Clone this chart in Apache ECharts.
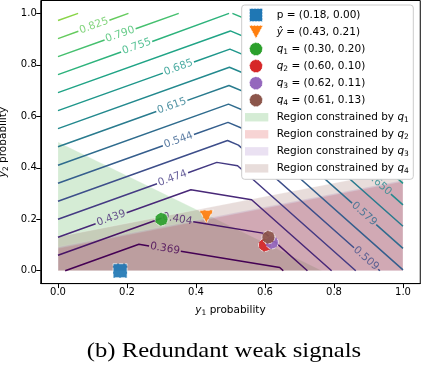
<!DOCTYPE html>
<html><head><meta charset="utf-8">
<script src="https://cdn.jsdelivr.net/npm/echarts@6/dist/echarts.min.js"></script>
<style>html,body{margin:0;padding:0;background:#fff}#c{width:422px;height:366px}</style>
</head><body><div id="c"></div>
<script>
// ---- data ----
const xTicks = [0, 0.2, 0.4, 0.6, 0.8, 1.0];
const yTicks = [0, 0.2, 0.4, 0.6, 0.8, 1.0];

// contour polylines (segments split where inline labels sit)
const c369 = [[[0.0208,0],[0.2345,0.1026],[0.264,0.0961]], [[0.356,0.0757],[0.6427,0.0124],[0.653,0]]];
const c404 = [[[0,0.06],[0.30,0.204]], [[0.392,0.1906],[0.602,0.1442],[0.723,0]]];
const c439 = [[[0,0.13],[0.109,0.1823]], [[0.199,0.2255],[0.3852,0.3149],[0.5612,0.276],[0.793,0]]];
const c474 = [[[0,0.2],[0.287,0.3378]], [[0.377,0.381],[0.4604,0.421],[0.5205,0.4078],[0.863,0]]];
const c509 = [[[0,0.27],[0.4914,0.5059],[0.5229,0.4882],[0.858,0.0893]], [[0.928,0.006],[0.933,0]]];
const c544 = [[[0,0.34],[0.304,0.4859]], [[0.394,0.5291],[0.4928,0.5765],[0.5418,0.549],[1.0,0.0035]]];
const c579 = [[[0,0.41],[0.4942,0.6472],[0.5607,0.6098],[0.8525,0.2625]], [[0.9225,0.1792],[1.0,0.0869]]];
const c615 = [[[0,0.482],[0.285,0.6188]], [[0.375,0.662],[0.4956,0.7199],[0.5802,0.6724],[1.0,0.1726]]];
const c650 = [[[0,0.552],[0.4969,0.7905],[0.5991,0.7332],[0.895,0.3809]], [[0.965,0.2976],[1.0,0.2559]]];
const c685 = [[[0,0.622],[0.304,0.7679]], [[0.394,0.8111],[0.4983,0.8612],[0.618,0.794],[1.0,0.3393]]];
const c720 = [[[0,0.692],[0.4996,0.9318],[0.6369,0.8548],[1.0,0.4226]]];
const c755 = [[[0,0.762],[0.183,0.8498]], [[0.273,0.891],[0.4958,1.0]], [[0.5055,1.0],[0.6558,0.9157],[1.0,0.506]]];
const c790 = [[[0,0.832],[0.135,0.8968]], [[0.225,0.94],[0.35,1.0]], [[0.6327,1.0],[0.6747,0.9765],[1.0,0.5893]]];
const c825 = [[[0,0.902],[0.059,0.9303]], [[0.149,0.9735],[0.2042,1.0]], [[0.725,1.0],[1.0,0.6726]]];
const c860 = [[[0,0.972],[0.0583,1.0]], [[0.795,1.0],[1.0,0.756]]];
const c895 = [[[0.865,1.0],[1.0,0.839]]];
const c930 = [[[0.935,1.0],[1.0,0.923]]];

const contourLabels = [
  [0.310, 0.0859, '0.369'], [0.346, 0.2007, '0.404'], [0.154, 0.204, '0.439'],
  [0.332, 0.359, '0.474'], [0.893, 0.0476, '0.509'], [0.349, 0.5075, '0.544'],
  [0.8875, 0.2208, '0.579'], [0.33, 0.6404, '0.615'], [0.93, 0.3393, '0.650'],
  [0.349, 0.7895, '0.685'], [0.228, 0.8714, '0.755'], [0.18, 0.9184, '0.790'],
  [0.104, 0.9519, '0.825']
];

const pPoint = [[0.18, 0.00]];
const yHatPoint = [[0.43, 0.21]];
const q1Point = [[0.30, 0.20]];
const q2Point = [[0.60, 0.10]];
const q3Point = [[0.62, 0.11]];
const q4Point = [[0.61, 0.13]];

const regionQ1 = [[0,0],[0,0.5],[0.765,0]];
const regionQ2 = [[0,0],[0,0.087],[1,0.347],[1,0]];
const regionQ3 = [[0,0],[0,0.092],[1,0.352],[1,0]];
const regionQ4 = [[0,0],[0,0.132],[1,0.392],[1,0]];

const legendTexts = ['p = (0.18, 0.00)', '{i|ŷ} = (0.43, 0.21)',
  '{i|q}{s|1} = (0.30, 0.20)', '{i|q}{s|2} = (0.60, 0.10)', '{i|q}{s|3} = (0.62, 0.11)', '{i|q}{s|4} = (0.61, 0.13)',
  'Region constrained by {i|q}{s|1}', 'Region constrained by {i|q}{s|2}',
  'Region constrained by {i|q}{s|3}', 'Region constrained by {i|q}{s|4}'];

// ---- styles ----
const contours = [
  [c369,'#440154'],[c404,'#471466'],[c439,'#482878'],[c474,'#443a83'],[c509,'#3d4e8a'],
  [c544,'#355e8d'],[c579,'#2f6c8e'],[c615,'#297b8e'],[c650,'#23898e'],[c685,'#1f978b'],
  [c720,'#20a486'],[c755,'#2eb37c'],[c790,'#46c06f'],[c825,'#65cb5e'],[c860,'#89d548'],
  [c895,'#b0dd2f'],[c930,'#d8e219']
];
const labelColor = {'0.369':'#440154','0.404':'#471466','0.439':'#482878','0.474':'#443a83','0.509':'#3d4e8a',
  '0.544':'#355e8d','0.579':'#2f6c8e','0.615':'#297b8e','0.650':'#23898e','0.685':'#1f978b',
  '0.755':'#2eb37c','0.790':'#46c06f','0.825':'#65cb5e'};
const labelRot = {'0.369':-9.4,'0.404':-9.4,'0.509':-41.6,'0.579':-41.6,'0.650':-41.6};
const FONT = 'DejaVu Sans';

function joinSegs(segs){
  const out = [];
  segs.forEach((s,i)=>{ if(i) out.push([null,null]); s.forEach(p=>out.push(p)); });
  return out;
}
function polySeries(pts, fill){
  return {type:'custom', coordinateSystem:'cartesian2d', data:[[0,0]], z:1, silent:true, animation:false,
    renderItem:(params, api)=>({type:'polygon', shape:{points: pts.map(p=>api.coord(p))},
      style:{fill:fill, stroke:'rgba(255,255,255,0.25)', lineWidth:0.8}})};
}
function markerSeries(data, symbol, size, color, z){
  return {type:'scatter', data:data, symbol:symbol, symbolSize:size, z:z, silent:true, animation:false,
    itemStyle:{color:color, opacity:0.92, borderColor:'rgba(255,255,255,0.75)', borderWidth:1, borderType:'dashed'}};
}

const series = [];
series.push(polySeries(regionQ1, 'rgba(44,160,44,0.2)'));
series.push(polySeries(regionQ2, 'rgba(214,39,40,0.2)'));
series.push(polySeries(regionQ3, 'rgba(148,103,189,0.2)'));
series.push(polySeries(regionQ4, 'rgba(140,86,75,0.2)'));
contours.forEach(([segs,col])=>{
  series.push({type:'line', data:joinSegs(segs), showSymbol:false, symbol:'none', z:3, silent:true,
    animation:false, connectNulls:false, lineStyle:{color:col, width:1.5}});
});
series.push({type:'scatter', symbolSize:0, z:4, silent:true, animation:false,
  data: contourLabels.map(d=>({value:d, label:{rotate: labelRot[d[2]]!==undefined?labelRot[d[2]]:19.7, color:labelColor[d[2]]}})),
  label:{show:true, position:'inside', formatter:p=>p.value[2], fontSize:10.5, fontFamily:FONT, align:'center', verticalAlign:'middle'}});
const downTri = 'path://M0,0 L10,0 L5,10 Z';
series.push(markerSeries(pPoint, 'rect', 14, '#1f77b4', 6));
series.push(markerSeries(yHatPoint, downTri, [14,13], '#ff7f0e', 6));
series.push(markerSeries(q1Point, 'circle', 13, '#2ca02c', 6));
series.push(markerSeries(q2Point, 'circle', 13, '#d62728', 7));
series.push(markerSeries(q3Point, 'circle', 13, '#9467bd', 8));
series.push(markerSeries(q4Point, 'circle', 13, '#8c564b', 9));

// legend as graphic
const LX = 241.7, LY = 5, LW = 171.6, LH = 174.3;
const rowY = i => 15 + 17.04*i;
const richT = {i:{fontStyle:'italic', fontSize:10.5, fontFamily:FONT, fill:'#000'},
  s:{fontSize:7.5, fontFamily:FONT, fill:'#000', padding:[5,0,0,0]}};
const graphics = [{type:'rect', z:100, shape:{x:LX, y:LY, width:LW, height:LH, r:3},
  style:{fill:'#ffffff', stroke:'#cccccc', lineWidth:1}}];
const mk = {stroke:'rgba(255,255,255,0.7)', lineWidth:1, lineDash:[2,1]};
graphics.push({type:'rect', z:101, shape:{x:249.5, y:rowY(0)-6.5, width:13, height:13}, style:Object.assign({fill:'#1f77b4'}, mk)});
graphics.push({type:'polygon', z:101, shape:{points:[[249,rowY(1)-6.5],[263,rowY(1)-6.5],[256,rowY(1)+6.5]]}, style:Object.assign({fill:'#ff7f0e'}, mk)});
['#2ca02c','#d62728','#9467bd','#8c564b'].forEach((c,k)=>{
  graphics.push({type:'circle', z:101, shape:{cx:256, cy:rowY(2+k), r:6.5}, style:Object.assign({fill:c}, mk)});
});
['rgba(44,160,44,0.2)','rgba(214,39,40,0.2)','rgba(148,103,189,0.2)','rgba(140,86,75,0.2)'].forEach((c,k)=>{
  graphics.push({type:'rect', z:101, shape:{x:245, y:rowY(6+k)-4.2, width:23.3, height:8.4}, style:{fill:c}});
});
legendTexts.forEach((t,i)=>{
  graphics.push({type:'text', z:102, x:276.7, y:rowY(i), style:{text:t, fontSize:10.5, fontFamily:FONT, fill:'#000',
    verticalAlign:'middle', textVerticalAlign:'middle', rich:richT}});
});
graphics.push({type:'text', z:102, x:224, y:351, scaleX:1.12, style:{text:'(b) Redundant weak signals', fontSize:22,
  fontFamily:'Liberation Serif', fill:'#000', align:'center', textAlign:'center', verticalAlign:'middle', textVerticalAlign:'middle'}});

const axisCommon = (ticks)=>({
  type:'value', min:-0.05, max:1.05,
  axisLine:{show:true, onZero:false, lineStyle:{color:'#000', width:1}},
  splitLine:{show:false},
  axisTick:{show:true, customValues:ticks, length:4.5, lineStyle:{color:'#000', width:1}},
  axisLabel:{show:true, customValues:ticks, formatter:v=>Number(v).toFixed(1), color:'#000', fontSize:10, fontFamily:FONT, margin:4},
});
const nameRich = {i:{fontStyle:'italic', fontSize:10.5, fontFamily:FONT, color:'#000'},
  s:{fontSize:7.5, fontFamily:FONT, color:'#000', padding:[5,0,0,0]}};

const chart = echarts.init(document.getElementById('c'), null, {renderer:'canvas'});
chart.setOption({
  animation:false,
  backgroundColor:'#fff',
  grid:{left:40.75, top:0.5, width:379.5, height:283.1, show:true, borderColor:'#000', borderWidth:1,
    backgroundColor:'transparent', containLabel:false, outerBoundsMode:'none'},
  xAxis:Object.assign(axisCommon(xTicks), {name:'{i|y}{s|1} probability', nameLocation:'middle', nameGap:20,
    nameTextStyle:{fontSize:10.5, fontFamily:FONT, color:'#000', rich:nameRich}}),
  yAxis:Object.assign(axisCommon(yTicks), {name:'{i|y}{s|2} probability', nameLocation:'middle', nameGap:25, nameRotate:90,
    nameTextStyle:{fontSize:10.5, fontFamily:FONT, color:'#000', rich:nameRich}}),
  series:series,
  graphic:graphics
});
</script></body></html>
